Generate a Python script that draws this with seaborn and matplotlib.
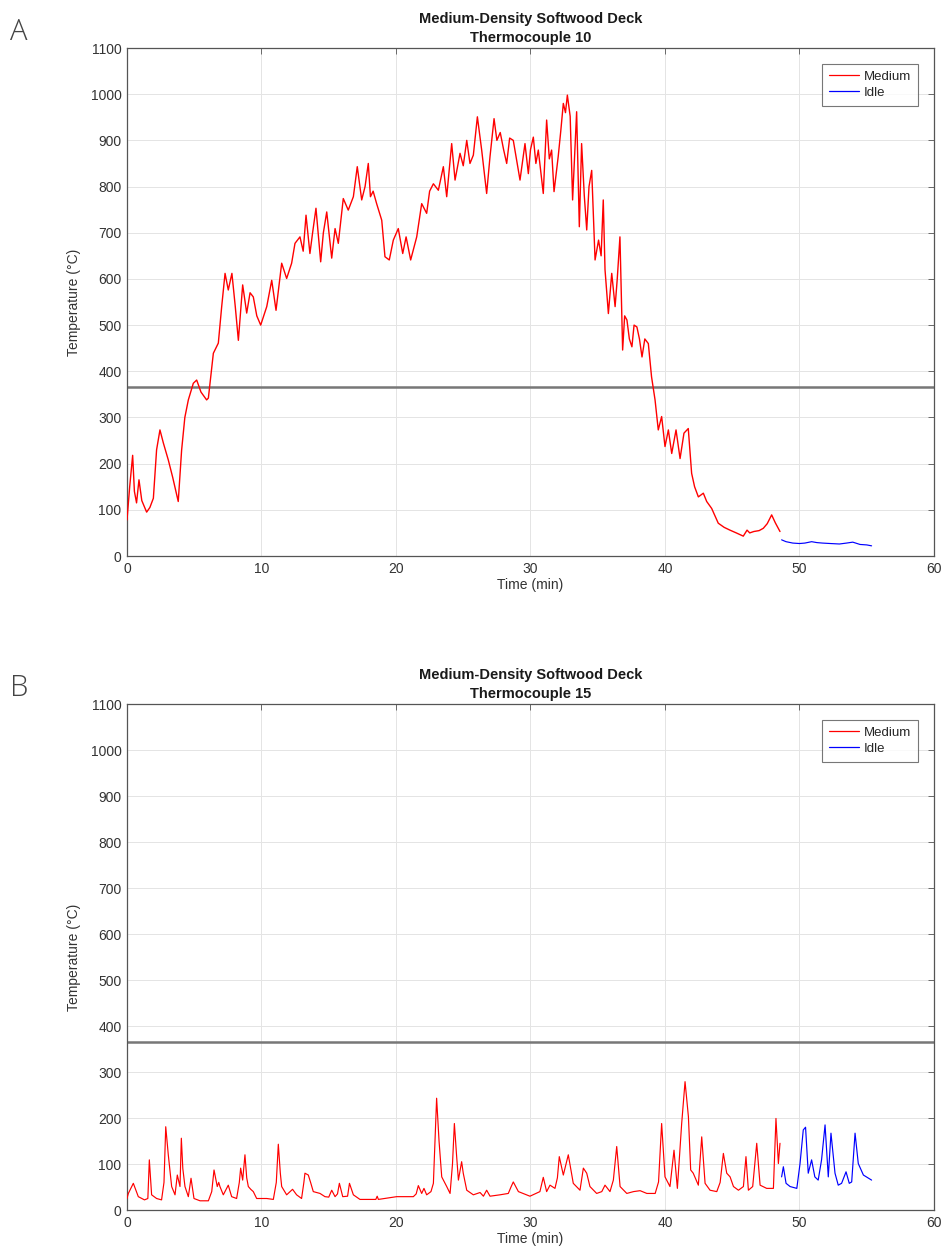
import numpy as np
import pandas as pd
import matplotlib
matplotlib.use("Agg")
import matplotlib.pyplot as plt
import seaborn as sns

# ---------------- data ----------------
x_ticks = [0, 10, 20, 30, 40, 50, 60]
y_ticks = [0, 100, 200, 300, 400, 500, 600, 700, 800, 900, 1000, 1100]
threshold = 365

# Panel A: Thermocouple 10, Medium
tA_med = [0, 0.2, 0.42, 0.55, 0.71, 0.89, 1.1, 1.46, 1.7, 1.96,
          2.2, 2.45, 2.7, 3.07, 3.4, 3.81, 4.06, 4.3, 4.56, 4.93,
          5.18, 5.5, 5.92, 6.05, 6.42, 6.79, 7.04, 7.29, 7.53, 7.8,
          8.05, 8.28, 8.6, 8.9, 9.15, 9.39, 9.65, 9.94, 10.39, 10.76,
          11.08, 11.5, 11.87, 12.24, 12.49, 12.86, 13.1, 13.31, 13.6, 13.8,
          14.05, 14.4, 14.6, 14.85, 15.22, 15.47, 15.71, 16.08, 16.45, 16.83,
          17.12, 17.45, 17.7, 17.94, 18.1, 18.3, 18.56, 18.94, 19.18, 19.5,
          19.8, 20.17, 20.5, 20.75, 21.09, 21.54, 21.91, 22.28, 22.5, 22.78,
          23.15, 23.52, 23.77, 24.14, 24.39, 24.76, 25.0, 25.26, 25.5, 25.75,
          26.05, 26.37, 26.74, 26.99, 27.29, 27.5, 27.75, 28.0, 28.23, 28.45,
          28.72, 28.95, 29.22, 29.59, 29.84, 30.0, 30.21, 30.4, 30.58, 30.95,
          31.2, 31.4, 31.57, 31.75, 32.06, 32.25, 32.44, 32.6, 32.74, 32.95,
          33.13, 33.43, 33.63, 33.8, 34.0, 34.18, 34.35, 34.55, 34.8, 35.06,
          35.25, 35.41, 35.54, 35.79, 36.04, 36.29, 36.45, 36.65, 36.85, 37.0,
          37.17, 37.35, 37.54, 37.7, 37.91, 38.1, 38.29, 38.5, 38.76, 39.0,
          39.26, 39.5, 39.75, 40.0, 40.25, 40.5, 40.82, 41.12, 41.41, 41.73,
          41.98, 42.2, 42.48, 42.85, 43.1, 43.47, 43.96, 44.4, 44.83, 45.3,
          45.82, 46.1, 46.3, 46.6, 47.0, 47.31, 47.6, 47.93, 48.2, 48.55]
TA_med = [78, 150, 218, 140, 115, 165, 120, 95, 105, 125,
          230, 273, 245, 208, 170, 118, 229, 300, 338, 374,
          381, 355, 338, 342, 439, 461, 540, 612, 576, 612,
          540, 467, 587, 526, 570, 561, 520, 500, 540, 597,
          532, 634, 601, 634, 677, 691, 660, 738, 655, 700,
          753, 637, 700, 745, 645, 709, 677, 774, 749, 778,
          843, 771, 800, 850, 778, 790, 763, 727, 648, 641,
          684, 709, 655, 691, 641, 691, 763, 742, 790, 806,
          792, 843, 778, 893, 814, 872, 845, 900, 850, 868,
          951, 879, 785, 865, 947, 900, 917, 880, 850, 905,
          900, 860, 814, 893, 828, 880, 907, 850, 879, 785,
          944, 860, 879, 789, 865, 920, 980, 960, 998, 952,
          771, 962, 713, 893, 780, 706, 800, 835, 641, 684,
          650, 771, 620, 525, 612, 540, 600, 691, 446, 520,
          511, 470, 453, 500, 496, 470, 431, 470, 460, 388,
          338, 273, 302, 237, 273, 222, 273, 211, 266, 276,
          179, 150, 128, 136, 118, 103, 71, 62, 56, 50,
          43, 56, 50, 53, 55, 60, 70, 89, 72, 53]

# Panel A: Idle
tA_idle = [48.67, 49.0, 49.5, 50.0, 50.4, 50.9, 51.3, 51.7, 52.3, 52.97,
           53.5, 53.96, 54.5, 55.0, 55.36]
TA_idle = [35, 31, 28, 27, 28, 31, 29, 28, 27, 26,
           28, 30, 25, 24, 22]

# Panel B: Thermocouple 15, Medium
tB_med = [0, 0.1, 0.47, 0.84, 1.3, 1.55, 1.66, 1.83, 2.2, 2.57,
          2.75, 2.88, 3.07, 3.32, 3.57, 3.74, 3.94, 4.04, 4.15, 4.31,
          4.56, 4.76, 4.98, 5.43, 6.05, 6.3, 6.47, 6.71, 6.82, 6.91,
          7.16, 7.53, 7.78, 8.15, 8.35, 8.45, 8.6, 8.77, 8.9, 9.02,
          9.2, 9.39, 9.64, 10.39, 10.88, 11.1, 11.25, 11.4, 11.5, 11.87,
          12.31, 12.61, 12.98, 13.15, 13.23, 13.48, 13.65, 13.85, 14.35, 14.72,
          15.0, 15.22, 15.47, 15.65, 15.79, 16.04, 16.4, 16.54, 16.83, 17.32,
          18.5, 18.6, 18.69, 20.05, 21.29, 21.5, 21.66, 21.91, 22.08, 22.28,
          22.6, 22.78, 22.9, 23.02, 23.2, 23.4, 23.77, 24.02, 24.2, 24.34,
          24.5, 24.64, 24.88, 25.0, 25.26, 25.75, 26.25, 26.5, 26.74, 26.99,
          27.73, 28.35, 28.55, 28.72, 29.1, 29.96, 30.7, 30.95, 31.2, 31.45,
          31.82, 32.0, 32.14, 32.44, 32.81, 33.18, 33.68, 33.93, 34.18, 34.42,
          34.92, 35.3, 35.54, 35.91, 36.16, 36.41, 36.66, 37.16, 37.66, 38.15,
          38.65, 39.27, 39.52, 39.75, 40.0, 40.37, 40.67, 40.92, 41.24, 41.49,
          41.74, 41.91, 42.1, 42.48, 42.73, 42.98, 43.35, 43.85, 44.1, 44.34,
          44.59, 44.84, 45.09, 45.46, 45.83, 46.02, 46.2, 46.52, 46.82, 47.07,
          47.56, 48.06, 48.25, 48.43, 48.55]
TB_med = [25, 36, 58, 29, 22, 25, 109, 33, 25, 22,
          60, 181, 120, 51, 33, 76, 51, 156, 90, 51,
          29, 69, 25, 20, 20, 40, 87, 51, 60, 51,
          33, 54, 29, 25, 60, 91, 65, 120, 70, 51,
          45, 40, 25, 25, 23, 60, 143, 80, 51, 33,
          45, 33, 25, 60, 80, 76, 60, 40, 36, 29,
          28, 43, 29, 35, 58, 29, 30, 58, 33, 23,
          23, 30, 23, 29, 29, 35, 53, 36, 47, 33,
          40, 58, 150, 243, 150, 72, 51, 36, 100, 188,
          120, 65, 105, 80, 43, 33, 38, 30, 43, 30,
          33, 36, 50, 61, 40, 30, 40, 71, 40, 54,
          47, 70, 116, 76, 120, 58, 43, 91, 80, 51,
          36, 40, 54, 40, 65, 138, 51, 36, 40, 42,
          36, 36, 61, 188, 72, 51, 130, 47, 188, 279,
          203, 87, 80, 54, 159, 58, 43, 40, 60, 123,
          80, 72, 51, 43, 51, 116, 43, 51, 145, 54,
          47, 47, 199, 101, 145]

# Panel B: Idle
tB_idle = [48.67, 48.8, 49.0, 49.3, 49.8, 50.04, 50.28, 50.45, 50.65, 50.9,
           51.14, 51.39, 51.64, 51.9, 52.14, 52.34, 52.64, 52.88, 53.13, 53.46,
           53.7, 53.88, 54.13, 54.37, 54.75, 55.36]
TB_idle = [72, 94, 58, 51, 47, 101, 174, 180, 80, 109,
           72, 65, 109, 185, 72, 167, 80, 54, 58, 83,
           58, 61, 167, 101, 76, 65]

titles = ["Medium-Density Softwood Deck\nThermocouple 10",
          "Medium-Density Softwood Deck\nThermocouple 15"]
letters = ["A", "B"]

# ---------------- style ----------------
sns.set_style("white")
plt.rcParams['font.family'] = ['Liberation Sans', 'DejaVu Sans']

W, H = 945, 1258
fig = plt.figure(figsize=(W / 100, H / 100), dpi=100)


def px_rect(l, t, r, b):
    return [l / W, 1 - b / H, (r - l) / W, (b - t) / H]


axA = fig.add_axes(px_rect(127, 48, 934, 556))
axB = fig.add_axes(px_rect(127, 704, 934, 1210))


def draw(ax, tm, ym, ti, yi, title, letter, letter_y, lw):
    dm = pd.DataFrame({"t": tm, "T": ym})
    di = pd.DataFrame({"t": ti, "T": yi})
    ax.axhline(threshold, color="#777777", lw=1.8, zorder=1)
    sns.lineplot(data=dm, x="t", y="T", color="#ff0000", lw=lw,
                 estimator=None, sort=False, ax=ax, label="Medium", zorder=3)
    sns.lineplot(data=di, x="t", y="T", color="#0000ff", lw=0.85,
                 estimator=None, sort=False, ax=ax, label="Idle", zorder=3)
    ax.set_xlim(0, 60)
    ax.set_ylim(0, 1100)
    ax.set_xticks(x_ticks)
    ax.set_yticks(y_ticks)
    ax.grid(True, color="#e4e4e4", lw=0.7)
    ax.set_axisbelow(True)
    for s in ax.spines.values():
        s.set_color("#555555")
        s.set_linewidth(0.9)
    ax.tick_params(direction="in", top=True, right=True, length=4, width=0.6,
                   colors="#555555", labelsize=10, labelcolor="#333333", pad=4)
    ax.set_xlabel("Time (min)", fontsize=10, color="#333333", labelpad=2)
    ax.set_ylabel("Temperature (°C)", fontsize=10, color="#333333", labelpad=7)
    ax.set_title(title, fontsize=10.5, fontweight="bold", color="#1a1a1a",
                 pad=4, linespacing=1.45)
    leg = ax.legend(loc="upper right",
                    bbox_to_anchor=(1 - 16 / 807, 1 - 16 / 508),
                    borderaxespad=0, fontsize=9.5, frameon=True, fancybox=False,
                    edgecolor="#555555", handlelength=2.3, borderpad=0.5,
                    labelspacing=0.3, handletextpad=0.4)
    leg.get_frame().set_linewidth(0.8)
    for line in leg.get_lines():
        line.set_linewidth(0.9)
    fig.text(10 / W, 1 - letter_y / H, letter, fontsize=21, ha="left",
             va="center", color="#444444", family="Open Sans", weight="light")


draw(axA, tA_med, TA_med, tA_idle, TA_idle, titles[0], letters[0], 32, 1.0)
draw(axB, tB_med, TB_med, tB_idle, TB_idle, titles[1], letters[1], 688, 0.85)

fig.savefig("out.png", dpi=100)
